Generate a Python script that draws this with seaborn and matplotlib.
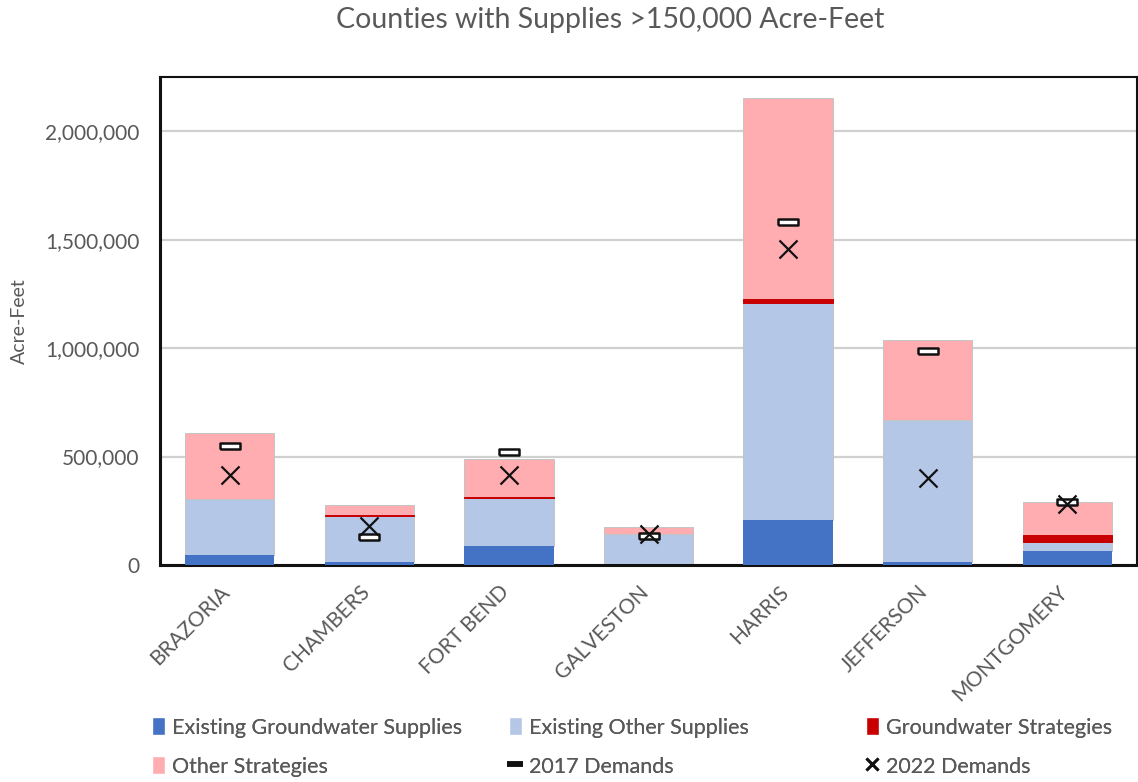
import numpy as np
import pandas as pd
import matplotlib
matplotlib.use("Agg")
import matplotlib.pyplot as plt
import matplotlib.transforms as mtransforms
from matplotlib.lines import Line2D
from matplotlib.patches import Patch
from matplotlib.ticker import FuncFormatter, MultipleLocator
import seaborn as sns

counties = ["BRAZORIA", "CHAMBERS", "FORT BEND", "GALVESTON", "HARRIS", "JEFFERSON", "MONTGOMERY"]
existing_groundwater = [46000, 12000, 88000, 1000, 208000, 12000, 65000]
existing_other = [257000, 216000, 223000, 142000, 1001000, 658000, 40000]
groundwater_strategies = [0, 4000, 4000, 0, 18000, 0, 32000]
other_strategies = [305000, 45000, 175000, 34000, 924000, 366000, 154000]
demands_2017 = [550000, 128000, 523000, 136000, 1583000, 985000, 289000]
demands_2022 = [416000, 180000, 416000, 143000, 1455000, 400000, 282000]

sns.set_theme(style="white")
plt.rcParams["font.family"] = ["Lato", "DejaVu Sans"]
grey = "#595959"

df = pd.DataFrame({
    "county": counties,
    "gw": existing_groundwater,
    "other": existing_other,
    "gws": groundwater_strategies,
    "os": other_strategies,
    "d2017": demands_2017,
    "d2022": demands_2022,
})

fig = plt.figure(figsize=(11.38, 7.82), dpi=100)
ax = fig.add_axes([160 / 1138, 1 - 565 / 782, (1137 - 160) / 1138, (565 - 77) / 782])

layers = [
    ("gw", "#4472C4", "none", 3),
    ("other", "#B4C7E7", "#c4c4c4", 2),
    ("gws", "#C80000", "#C80000", 3),
    ("os", "#FFADB0", "#c4c4c4", 2),
]
bottom = np.zeros(len(df))
for col, color, edge, z in layers:
    sns.barplot(data=df, x="county", y=col, bottom=bottom, color=color, width=0.64,
                saturation=1, edgecolor=edge, linewidth=0.7, ax=ax, zorder=z)
    # empty segments should not leave an outline behind
    for bar in ax.containers[-1]:
        if bar.get_height() == 0:
            bar.set_visible(False)
    bottom = bottom + df[col].to_numpy()

# hollow dash marker for the 2017 demands
dash = [(-1.6, -0.42), (1.6, -0.42), (1.6, 0.42), (-1.6, 0.42), (-1.6, -0.42)]
sns.stripplot(data=df, x="county", y="d2017", jitter=False, marker=dash, s=15,
              color="white", edgecolor="#111111", linewidth=1.8, ax=ax, zorder=4)
sns.stripplot(data=df, x="county", y="d2022", jitter=False, marker="x", s=13,
              color="#111111", linewidth=1.6, ax=ax, zorder=5)

ax.set_xlim(-0.5, len(counties) - 0.5)
ax.set_ylim(0, 2250000)
ax.yaxis.set_major_locator(MultipleLocator(500000))
ax.yaxis.set_major_formatter(FuncFormatter(lambda v, p: f"{int(v):,}"))
ax.grid(axis="y", color="#d0d0d0", linewidth=1.6, zorder=0)
ax.set_axisbelow(True)

for side in ["top", "right"]:
    ax.spines[side].set_visible(True)
    ax.spines[side].set_color("#111111")
    ax.spines[side].set_linewidth(1.5)
for side in ["left", "bottom"]:
    ax.spines[side].set_color("#111111")
    ax.spines[side].set_linewidth(2.2)

ax.tick_params(axis="y", labelsize=15, labelcolor=grey, length=0, pad=15)
ax.tick_params(axis="x", labelsize=15, labelcolor=grey, length=0, pad=12)
shift = mtransforms.ScaledTranslation(-10 / 100, 0, fig.dpi_scale_trans)
for lbl in ax.get_xticklabels():
    lbl.set_rotation(45)
    lbl.set_ha("right")
    lbl.set_rotation_mode("anchor")
    lbl.set_transform(lbl.get_transform() + shift)

ax.set_xlabel("")
ax.set_ylabel("Acre-Feet", fontsize=14, color=grey)
ax.yaxis.set_label_coords(-0.135, 0.5)

fig.text(610 / 1138, 1 - 20 / 782, "Counties with Supplies >150,000 Acre-Feet", ha="center",
         va="center", fontsize=20.5, color=grey)

handles = [
    Patch(facecolor="#4472C4", label="Existing Groundwater Supplies"),
    Patch(facecolor="#FFADB0", label="Other Strategies"),
    Patch(facecolor="#B4C7E7", label="Existing Other Supplies"),
    Line2D([], [], color="#111111", marker="_", markersize=11, markeredgewidth=4,
           linestyle="none", label="2017 Demands"),
    Patch(facecolor="#C80000", label="Groundwater Strategies"),
    Line2D([], [], color="#111111", marker="x", markersize=8, markeredgewidth=2,
           linestyle="none", label="2022 Demands"),
]
# three legend columns spaced evenly under the plot
for i, x0 in enumerate([143, 500, 857]):
    leg = fig.legend(handles=handles[2 * i:2 * i + 2], loc="center left",
                     bbox_to_anchor=(x0 / 1138, 1 - 747 / 782), ncol=1, frameon=False,
                     fontsize=15.5, labelcolor=grey, handlelength=0.6, handleheight=0.9,
                     handletextpad=0.35, labelspacing=0.85, borderaxespad=0)
    fig.add_artist(leg)

fig.savefig("out.png", dpi=100)
